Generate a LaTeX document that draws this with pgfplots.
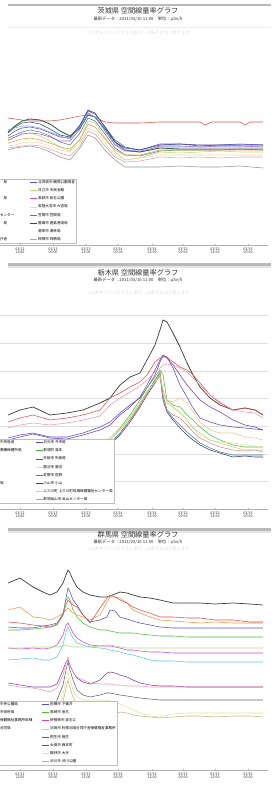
\documentclass[border=0pt]{standalone}
\usepackage{pgfplots}
\pgfplotsset{compat=1.18}
\usepackage{fontspec}
\setmainfont{Noto Sans CJK JP}
\definecolor{cRed}{RGB}{222,80,80}
\definecolor{cDark}{RGB}{60,60,60}
\definecolor{cDkGreen}{RGB}{50,110,70}
\definecolor{cBlue}{RGB}{80,80,210}
\definecolor{cPurple}{RGB}{120,60,170}
\definecolor{cMagenta}{RGB}{205,70,205}
\definecolor{cGreen}{RGB}{80,190,60}
\definecolor{cLtGreen}{RGB}{175,220,130}
\definecolor{cPale}{RGB}{225,225,160}
\definecolor{cTeal}{RGB}{70,130,140}
\definecolor{cCyan}{RGB}{90,200,225}
\definecolor{cLtBlue}{RGB}{130,160,230}
\definecolor{cOrange}{RGB}{240,150,70}
\definecolor{cPink}{RGB}{240,150,175}
\definecolor{cTan}{RGB}{205,175,125}
\definecolor{cGray}{RGB}{150,150,150}
\definecolor{cDkBlue}{RGB}{50,60,130}
\pgfplotsset{
  panel/.style={
    scale only axis, width=268pt, xmin=0, xmax=268,
    axis x line=bottom, axis y line=left,
    y axis line style={draw=none}, ytick style={draw=none}, yticklabels={},
    x axis line style={gray!60,-}, tick style={gray!60},
    xtick={20,53,86,118,152,183,215,248},
    minor x tick num=7, major tick length=2pt, minor tick length=1.5pt,
    xticklabels={{03/12\\12:00},{03/13\\00:00},{03/13\\12:00},{03/14\\00:00},{03/14\\12:00},{03/15\\00:00},{03/15\\12:00},{03/16\\00:00}},
    xticklabel style={align=center, font=\fontsize{3.6}{3.9}\selectfont, text=gray!40!black, inner sep=1pt},
    y filter/.expression={-y},
    every axis plot/.append style={line width=0.55pt, mark=none},
    legend columns=8, transpose legend,
    legend cell align=left,
    legend image code/.code={\draw[line width=0.6pt] (0pt,0pt) -- (7pt,0pt);},
    legend style={draw=gray!50, fill=white, font=\fontsize{3.6}{4}\selectfont,
      inner sep=1pt, row sep=3.1pt,
      nodes={inner sep=0.6pt, text height=3pt, text depth=0.8pt}},
  }
}
\begin{document}
\begin{tikzpicture}[x=1pt,y=1pt]
\path[use as bounding box] (0,0) rectangle (271,-786);
% separators
\fill[gray!55] (8,-4) rectangle (271,-6);
\fill[gray!55] (8,-263) rectangle (271,-265.5);
\fill[gray!20] (8,-265.5) rectangle (271,-267.5);
\fill[gray!55] (8,-528) rectangle (271,-530.5);
\fill[gray!20] (8,-530.5) rectangle (271,-532.5);
% titles
\node[font=\fontsize{7.2}{8}\selectfont, text=black!80] at (138,-11) {茨城県 空間線量率グラフ};
\node[font=\fontsize{4.3}{5}\selectfont, text=black!80] at (138,-19) {最新データ：2011/03/16 11:00　単位：μSv/h};
\draw[gray!15, line width=1pt] (8,-28) -- (271,-28);
\node[font=\fontsize{4.3}{5}\selectfont, text=gray!25] at (138,-33) {※凡例をクリックすると表示・非表示を切り替えます};
\node[font=\fontsize{7.2}{8}\selectfont, text=black!80] at (138,-273) {栃木県 空間線量率グラフ};
\node[font=\fontsize{4.3}{5}\selectfont, text=black!80] at (138,-280) {最新データ：2011/03/16 11:00　単位：μSv/h};
\node[font=\fontsize{4.3}{5}\selectfont, text=gray!25] at (138,-293) {※凡例をクリックすると表示・非表示を切り替えます};
\node[font=\fontsize{7.2}{8}\selectfont, text=black!80] at (138,-535) {群馬県 空間線量率グラフ};
\node[font=\fontsize{4.3}{5}\selectfont, text=black!80] at (138,-542) {最新データ：2011/03/16 11:00　単位：μSv/h};
\node[font=\fontsize{4.3}{5}\selectfont, text=gray!25] at (138,-549) {※凡例をクリックすると表示・非表示を切り替えます};

% ---------------- Panel 1 ----------------
\begin{axis}[panel, at={(0,-245)}, anchor=south west, height=205pt, ymin=-245, ymax=-40,
  legend style={at={(-0.035,0.01)}, anchor=south west,
    /tikz/column 2/.append style={column sep=15pt}}]
\addlegendimage{cRed}\addlegendentry{　局}
\addlegendimage{cDkGreen}\addlegendentry{}
\addlegendimage{cLtBlue}\addlegendentry{　局}
\addlegendimage{cPink}\addlegendentry{}
\addlegendimage{cGray}\addlegendentry{センター}
\addlegendimage{cDark}\addlegendentry{　局}
\addlegendimage{cTan}\addlegendentry{}
\addlegendimage{cDkBlue}\addlegendentry{庁舎}
\addplot[cBlue] coordinates {(8,136)(15,131)(22,128)(30,127)(40,129)(50,133)(60,137)(70,138)(80,126)(88,111)(95,114)(105,127)(115,140)(125,147)(140,150)(160,144)(180,144)(200,146)(220,145)(240,144)(263,145)};
\addlegendentry{北茨城市 磯原公園局舎}
\addplot[cLtGreen] coordinates {(8,141)(15,137)(22,134)(30,133)(40,136)(50,141)(60,147)(70,151)(80,139)(88,121)(95,123)(105,138)(115,152)(125,160)(140,158)(160,152)(180,153)(200,152)(220,151)(240,152)(263,152)};
\addlegendentry{日立市 市民会館}
\addplot[cMagenta] coordinates {(8,140)(15,137)(22,134)(30,133)(40,134)(50,137)(60,141)(70,141)(80,129)(88,113)(95,117)(105,131)(115,145)(125,151)(140,152)(160,146)(180,146)(200,147)(220,146)(240,146)(263,147)};
\addlegendentry{高萩市 総合公園}
\addplot[cPale] coordinates {(8,146)(15,145)(22,143)(30,142)(40,143)(50,146)(60,150)(70,152)(80,143)(88,128)(95,131)(105,143)(115,155)(125,160)(140,158)(160,155)(180,155)(200,155)(220,155)(240,155)(263,155)};
\addlegendentry{常陸大宮市 大宮局}
\addplot[cTeal] coordinates {(8,138)(15,135)(22,132)(30,130)(40,132)(50,136)(60,142)(70,145)(80,133)(88,118)(95,121)(105,134)(115,148)(125,155)(140,156)(160,151)(180,150)(200,150)(220,150)(240,149)(263,150)};
\addlegendentry{笠間市 笠間局}
\addplot[cDkBlue] coordinates {(8,133)(15,127)(22,123)(30,122)(40,124)(50,129)(60,135)(70,137)(80,125)(88,110)(95,113)(105,127)(115,142)(125,148)(140,150)(160,145)(180,144)(200,145)(220,145)(240,145)(263,145)};
\addlegendentry{鹿嶋市 鹿島港湾局}
\addlegendimage{white!95!gray}\addlegendentry{潮来市 潮来局}
\addplot[cOrange] coordinates {(8,143)(15,141)(22,139)(30,138)(40,140)(50,143)(60,147)(70,149)(80,140)(88,124)(95,127)(105,139)(115,150)(125,155)(140,155)(160,150)(180,150)(200,150)(220,150)(240,150)(263,150)};
\addlegendentry{神栖市 神栖局}
\addplot[cRed, forget plot] coordinates {(8,118)(15,119)(22,120)(30,121)(40,121)(50,121)(60,120)(70,118)(80,116)(88,115)(95,117)(105,122)(115,123)(125,123)(140,123)(160,122)(180,122)(200,122)(205,125)(212,122)(240,122)(245,125)(250,122)(263,122)};
\addplot[cDkGreen, line width=0.9pt, forget plot] coordinates {(8,132)(15,126)(22,121)(30,119)(40,120)(50,124)(60,131)(70,136)(80,128)(88,115)(95,117)(105,129)(115,142)(125,150)(140,152)(160,148)(180,149)(200,149)(220,149)(240,149)(263,149)};
\addplot[cLtBlue, forget plot] coordinates {(8,130)(15,128)(22,126)(30,126)(40,128)(50,132)(60,136)(70,139)(80,127)(88,114)(95,117)(105,130)(115,144)(125,150)(140,151)(160,147)(180,147)(200,147)(220,147)(240,147)(263,147)};
\addplot[cGray, forget plot] coordinates {(8,150)(15,148)(22,147)(30,146)(40,148)(50,152)(60,157)(70,160)(80,148)(88,135)(95,138)(105,150)(115,160)(125,167)(140,167)(160,167)(180,166)(200,167)(220,167)(240,166)(263,168)};
\addplot[cPink, forget plot] coordinates {(8,148)(15,147)(22,146)(30,145)(40,146)(50,149)(60,153)(70,156)(80,146)(88,131)(95,134)(105,146)(115,157)(125,162)(140,161)(160,157)(180,158)(200,157)(220,158)(240,157)(263,157)};
\end{axis}

% ---------------- Panel 2 ----------------
\begin{axis}[panel, at={(0,-509)}, anchor=south west, height=219pt, ymin=-509, ymax=-290,
  ytick={-481,-454,-426,-398,-371,-343,-315}, ymajorgrids, grid style={gray!25, line width=0.5pt},
  legend style={at={(-0.035,0.027)}, anchor=south west,
    /tikz/column 2/.append style={column sep=13pt}}]
\addlegendimage{cDark}\addlegendentry{中央局舎}
\addlegendimage{cRed}\addlegendentry{黒磯保健所局}
\addlegendimage{cPink}\addlegendentry{}
\addlegendimage{cOrange}\addlegendentry{}
\addlegendimage{cGray}\addlegendentry{}
\addlegendimage{cTan}\addlegendentry{局}
\addlegendimage{cLtBlue}\addlegendentry{}
\addlegendimage{cCyan}\addlegendentry{}
\addplot[cBlue] coordinates {(8,438)(20,435)(33,433)(50,437)(67,437)(83,433)(100,427)(110,422)(120,413)(130,405)(140,398)(147,388)(155,375)(160,362)(163,356)(167,357)(173,368)(180,385)(187,397)(193,408)(200,418)(210,422)(220,425)(233,427)(245,428)(255,429)(263,430)};
\addlegendentry{日光市 今市局}
\addplot[cGreen] coordinates {(8,470)(20,470)(33,468)(50,465)(67,462)(83,455)(100,445)(110,438)(120,428)(130,415)(140,400)(147,388)(155,377)(160,370)(163,375)(167,400)(173,405)(180,407)(187,415)(193,420)(200,427)(210,435)(220,440)(233,445)(245,447)(255,447)(263,447)};
\addlegendentry{那須町 湯本}
\addplot[cPurple] coordinates {(8,440)(20,437)(33,434)(50,438)(67,439)(83,435)(100,430)(110,425)(120,415)(130,407)(140,397)(147,385)(155,370)(160,360)(163,355)(167,358)(173,365)(180,375)(187,385)(193,392)(200,400)(210,407)(220,412)(233,420)(245,425)(255,427)(263,430)};
\addlegendentry{矢板市 矢板局}
\addplot[cPale] coordinates {(8,468)(20,468)(33,466)(50,463)(67,460)(83,453)(100,445)(110,438)(120,429)(130,417)(140,403)(147,391)(155,380)(160,374)(163,392)(167,402)(173,408)(180,413)(187,420)(193,428)(200,435)(210,440)(220,442)(233,443)(245,445)(255,446)(263,447)};
\addlegendentry{鹿沼市 鹿沼}
\addplot[cTeal] coordinates {(8,475)(20,474)(33,472)(50,470)(67,467)(83,460)(100,450)(110,443)(120,433)(130,420)(140,405)(147,393)(155,380)(160,372)(163,395)(167,410)(173,418)(180,425)(187,432)(193,437)(200,443)(210,448)(220,452)(233,455)(245,455)(255,455)(263,455)};
\addlegendentry{佐野市 佐野}
\addplot[cDkBlue] coordinates {(8,478)(20,476)(33,474)(50,472)(67,468)(83,462)(100,452)(110,445)(120,435)(130,422)(140,407)(147,395)(155,383)(160,375)(163,400)(167,412)(173,420)(180,428)(187,435)(193,440)(200,445)(210,450)(220,453)(233,457)(245,456)(255,457)(263,457)};
\addlegendentry{小山市 小山}
\addplot[cOrange!60] coordinates {(8,472)(20,471)(33,470)(50,468)(67,465)(83,457)(100,448)(110,440)(120,430)(130,418)(140,404)(147,392)(155,382)(160,377)(163,390)(167,400)(173,402)(180,398)(187,403)(193,412)(200,422)(210,430)(220,433)(233,433)(245,437)(255,438)(263,440)};
\addlegendentry{上三川町 上三川町役場保健福祉センター局}
\addplot[cRed!70] coordinates {(8,476)(20,475)(33,473)(50,471)(67,467)(83,460)(100,451)(110,444)(120,434)(130,421)(140,406)(147,394)(155,381)(160,373)(163,398)(167,410)(173,415)(180,418)(187,425)(193,432)(200,438)(210,443)(220,447)(233,450)(245,451)(255,450)(263,452)};
\addlegendentry{那須烏山市 烏山センター局}
\addplot[cDark, line width=0.7pt, forget plot] coordinates {(8,415)(20,410)(33,407)(50,415)(67,413)(83,410)(100,403)(110,398)(120,385)(130,377)(140,373)(147,360)(155,345)(160,330)(163,320)(167,322)(173,333)(180,347)(187,363)(193,375)(200,387)(210,398)(220,405)(233,410)(245,408)(255,410)(263,415)};
\addplot[cRed, forget plot] coordinates {(8,422)(20,418)(33,415)(50,420)(67,418)(83,415)(100,410)(110,398)(120,393)(130,387)(140,382)(147,375)(155,362)(160,358)(163,357)(167,357)(173,362)(180,367)(187,370)(193,375)(200,383)(210,395)(220,403)(233,410)(245,408)(255,410)(263,415)};
\addplot[cPink, forget plot] coordinates {(8,428)(20,425)(33,423)(50,425)(67,423)(83,420)(100,416)(110,405)(120,398)(130,392)(140,386)(147,380)(155,372)(160,368)(163,365)(167,364)(173,365)(180,368)(187,372)(193,378)(200,385)(210,395)(220,402)(233,410)(245,412)(255,413)(263,418)};
\addplot[cLtGreen, forget plot] coordinates {(8,472)(20,471)(33,470)(50,468)(67,465)(83,457)(100,448)(110,440)(120,430)(130,418)(140,403)(147,392)(155,382)(160,375)(163,390)(167,403)(173,407)(180,412)(187,420)(193,428)(200,433)(210,440)(220,443)(233,447)(245,450)(255,450)(263,450)};
\end{axis}

% ---------------- Panel 3 ----------------
\begin{axis}[panel, at={(0,-770)}, anchor=south west, height=210pt, ymin=-770, ymax=-560,
  legend style={at={(-0.035,0.024)}, anchor=south west,
    /tikz/column 2/.append style={column sep=9pt}}]
\addlegendimage{cDark}\addlegendentry{中央公園局}
\addlegendimage{cOrange}\addlegendentry{市役所局}
\addlegendimage{cRed}\addlegendentry{保健福祉事務所局棟}
\addlegendimage{cCyan}\addlegendentry{合同局}
\addlegendimage{cGray}\addlegendentry{}
\addlegendimage{cGray}\addlegendentry{}
\addlegendimage{cGray}\addlegendentry{}
\addlegendimage{cGray}\addlegendentry{}
\addplot[cBlue] coordinates {(8,627)(20,628)(33,628)(43,626)(50,625)(57,623)(63,615)(66,598)(68,588)(70,592)(73,600)(77,605)(83,615)(90,622)(100,620)(107,617)(110,610)(115,611)(120,617)(127,619)(133,621)(140,623)(150,625)(160,627)(173,628)(187,628)(200,628)(215,628)(233,628)(250,628)(263,628)};
\addlegendentry{前橋市 下細井}
\addplot[cGreen] coordinates {(8,630)(20,630)(33,629)(43,628)(50,627)(57,624)(63,613)(66,600)(68,597)(70,600)(73,610)(77,617)(83,623)(90,627)(100,630)(107,630)(110,631)(115,632)(120,633)(127,633)(133,633)(140,634)(150,635)(160,636)(173,636)(187,637)(200,637)(215,637)(233,637)(250,637)(263,637)};
\addlegendentry{高崎市 金古}
\addplot[cMagenta] coordinates {(8,648)(20,649)(33,648)(43,649)(50,648)(57,645)(63,635)(66,625)(68,623)(70,627)(73,633)(77,638)(83,642)(90,645)(100,646)(107,646)(110,646)(115,647)(120,648)(127,650)(133,650)(140,651)(150,652)(160,652)(173,653)(187,653)(200,653)(215,653)(233,653)(250,653)(263,653)};
\addlegendentry{伊勢崎市 波志江}
\addplot[cLtGreen] coordinates {(8,648)(20,648)(33,647)(43,647)(50,647)(57,647)(63,646)(66,645)(68,646)(70,646)(73,647)(77,647)(83,647)(90,647)(100,646)(107,645)(110,645)(115,646)(120,647)(127,648)(133,648)(140,648)(150,648)(160,648)(173,648)(187,648)(200,648)(215,648)(233,648)(250,648)(263,648)};
\addlegendentry{沼田市 利根沼田合同庁舎保健福祉事務所}
\addplot[cDark!80] coordinates {(8,710)(20,712)(33,714)(43,715)(50,716)(57,700)(63,685)(66,670)(68,662)(70,670)(73,680)(77,690)(83,695)(90,697)(100,695)(107,693)(110,693)(115,694)(120,695)(127,696)(133,697)(140,698)(150,699)(160,700)(173,700)(187,700)(200,700)(215,700)(233,700)(250,700)(263,700)};
\addlegendentry{桐生市 相生}
\addplot[cPurple] coordinates {(8,683)(20,685)(33,687)(43,687)(50,687)(57,684)(63,670)(66,662)(68,660)(70,665)(73,672)(77,678)(83,682)(90,684)(100,680)(107,673)(110,672)(115,673)(120,675)(127,677)(133,680)(140,683)(150,685)(160,686)(173,686)(187,687)(200,687)(215,687)(233,687)(250,687)(263,687)};
\addlegendentry{太田市 西本町}
\addplot[cPale] coordinates {(8,720)(20,722)(33,724)(43,726)(50,727)(57,712)(63,695)(66,680)(68,672)(70,680)(73,690)(77,697)(83,700)(90,700)(100,700)(107,700)(110,701)(115,702)(120,704)(127,707)(133,710)(140,713)(150,716)(160,717)(173,714)(187,713)(200,713)(215,713)(233,713)(250,713)(263,713)};
\addlegendentry{館林市 大手}
\addplot[cTan] coordinates {(8,725)(20,727)(33,729)(43,730)(50,732)(57,720)(63,702)(66,688)(68,680)(70,688)(73,697)(77,705)(83,710)(90,712)(100,714)(107,715)(110,714)(115,714)(120,712)(127,713)(133,715)(140,716)(150,717)(160,718)(173,717)(187,716)(200,716)(215,717)(233,716)(250,716)(263,717)};
\addlegendentry{渋川市 渋川公園}
\addplot[cDark, line width=0.7pt, forget plot] coordinates {(8,583)(20,578)(33,587)(43,592)(50,595)(57,592)(63,583)(66,575)(68,570)(70,573)(73,580)(77,587)(83,592)(90,595)(100,597)(107,597)(110,596)(115,594)(120,592)(127,593)(133,595)(140,597)(150,598)(160,600)(173,603)(187,603)(200,603)(215,604)(233,603)(250,604)(263,605)};
\addplot[cOrange, forget plot] coordinates {(8,610)(20,607)(33,617)(43,618)(50,620)(57,617)(63,613)(66,610)(68,608)(70,610)(73,613)(77,615)(83,617)(90,620)(100,615)(107,602)(110,597)(115,597)(120,598)(127,603)(133,610)(140,613)(150,617)(160,620)(173,621)(187,622)(200,623)(215,622)(233,623)(250,623)(263,623)};
\addplot[cRed, forget plot] coordinates {(8,622)(20,623)(33,625)(43,626)(50,627)(57,625)(63,615)(66,605)(68,600)(70,602)(73,605)(77,607)(83,615)(90,623)(100,608)(107,598)(110,595)(115,597)(120,600)(127,603)(133,607)(140,610)(150,613)(160,617)(173,617)(187,618)(200,618)(215,620)(233,620)(250,622)(263,622)};
\addplot[cCyan, forget plot] coordinates {(8,660)(20,659)(33,658)(43,660)(50,660)(57,657)(63,645)(66,632)(68,627)(70,632)(73,638)(77,643)(83,645)(90,647)(100,648)(107,649)(110,650)(115,651)(120,652)(127,654)(133,655)(140,657)(150,660)(160,661)(173,661)(187,662)(200,662)(215,662)(233,662)(250,662)(263,662)};
\addplot[cPink, forget plot] coordinates {(8,685)(20,687)(33,688)(43,690)(50,692)(57,688)(63,675)(66,663)(68,657)(70,665)(73,672)(77,677)(83,680)(90,683)(100,684)(107,684)(110,684)(115,685)(120,685)(127,686)(133,686)(140,686)(150,687)(160,687)(173,687)(187,687)(200,687)(215,687)(233,687)(250,687)(263,687)};
\end{axis}
\end{tikzpicture}
\end{document}
